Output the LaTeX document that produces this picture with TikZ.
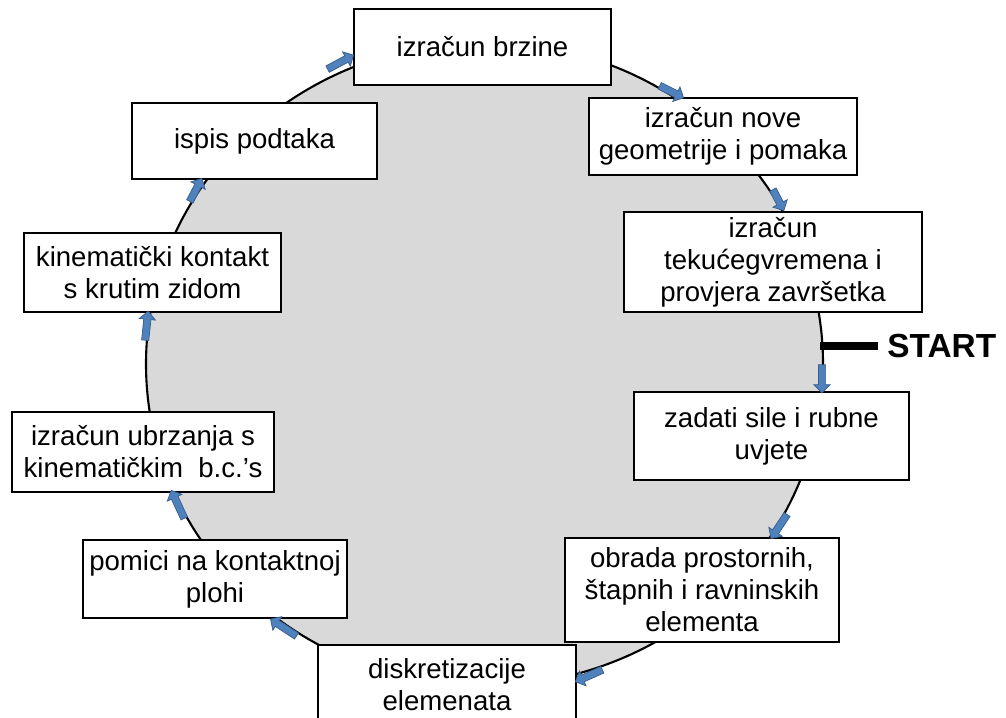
\documentclass[tikz,border=0pt]{standalone}
\usepackage{fontspec}
\setmainfont{Liberation Sans}
\usetikzlibrary{calc,shapes.arrows}
\definecolor{ringgray}{HTML}{D9D9D9}
\definecolor{arrowblue}{HTML}{4F81BD}
\definecolor{arrowedge}{HTML}{385D8A}
\tikzset{
	stepbox/.style={draw, line width=0.8pt, fill=white, align=center, inner sep=0pt,
		font=\fontsize{15.7}{18.2}\selectfont},
	ring/.style={draw, fill=ringgray, line width=1.2pt},
	blk/.style={single arrow, draw=arrowedge, fill=arrowblue, line width=0.4pt,
		inner xsep=0pt, inner ysep=0.065cm, single arrow head extend=0.09cm,
		single arrow tip angle=90}
}
\newcommand{\blkarrow}[2]{%
	\path let \p1=($(#2)-(#1)$), \n1={atan2(\y1,\x1)}, \n2={veclen(\x1,\y1)} in
		node[blk, rotate=\n1, minimum height=\n2] at ($(#1)!0.5!(#2)$) {};}
\begin{document}
\begin{tikzpicture}[x=0.02cm, y=-0.02cm]
	\useasboundingbox (0,0) rectangle (1006,717);
	\clip (0,0) rectangle (1006,717);
	\draw[ring] (484.5,364) ellipse [x radius=338.5, y radius=322];
	% boxes round the ring
	\node[stepbox, minimum width=5.14cm, minimum height=1.52cm] (brzine) at (482.5,47) {izračun brzine};
	\node[stepbox, minimum width=5.36cm, minimum height=1.54cm] (geometrija) at (723,136.5) {izračun nove\\geometrije i pomaka};
	\node[stepbox, minimum width=5.96cm, minimum height=2.0cm] (vrijeme) at (773,262) {izračun\\tekućegvremena i\\provjera završetka};
	\node[stepbox, minimum width=5.5cm, minimum height=1.76cm] (sile) at (771.5,436) {zadati sile i rubne\\uvjete};
	\node[stepbox, minimum width=5.48cm, minimum height=2.08cm] (obrada) at (702,590) {obrada prostornih,\\štapnih i ravninskih\\elementa};
	\node[stepbox, minimum width=5.16cm, minimum height=1.6cm] (diskret) at (447,685) {diskretizacije\\elemenata};
	\node[stepbox, minimum width=5.28cm, minimum height=1.56cm] (pomici) at (215,579) {pomici na kontaktnoj\\plohi};
	\node[stepbox, minimum width=5.24cm, minimum height=1.6cm] (ubrzanje) at (143,452) {izračun ubrzanja s\\kinematičkim~~b.c.'s};
	\node[stepbox, minimum width=5.14cm, minimum height=1.58cm] (kontakt) at (152.5,272.5) {kinematički kontakt\\s krutim zidom};
	\node[stepbox, minimum width=4.9cm, minimum height=1.52cm] (ispis) at (254.5,141) {ispis podtaka};
	% start mark
	\coordinate (startpt) at (820,346);
	\node[anchor=west, inner sep=0pt, font=\fontsize{19}{22}\selectfont\bfseries] (start) at (887,346) {START};
	\draw[line width=0.16cm] (startpt) -- (start.west -| 878,0);
	% block arrows along the ring
	\coordinate (a1) at (326,70);   \coordinate (a2) at (352,56);
	\coordinate (b1) at (658,85);   \coordinate (b2) at (682,97);
	\coordinate (c1) at (772,188);  \coordinate (c2) at (783,209);
	\coordinate (d1) at (822,363);  \coordinate (d2) at (822,391);
	\coordinate (e1) at (788,513);  \coordinate (e2) at (772,537);
	\coordinate (f1) at (604,669);  \coordinate (f2) at (577,681);
	\coordinate (g1) at (298,637);  \coordinate (g2) at (272,620);
	\coordinate (h1) at (185,520);  \coordinate (h2) at (172,492);
	\coordinate (i1) at (145,342);  \coordinate (i2) at (148,313);
	\coordinate (j1) at (189,203);  \coordinate (j2) at (201,180);
	\blkarrow{a1}{a2}
	\blkarrow{b1}{b2}
	\blkarrow{c1}{c2}
	\blkarrow{d1}{d2}
	\blkarrow{e1}{e2}
	\blkarrow{f1}{f2}
	\blkarrow{g1}{g2}
	\blkarrow{h1}{h2}
	\blkarrow{i1}{i2}
	\blkarrow{j1}{j2}
\end{tikzpicture}
\end{document}
